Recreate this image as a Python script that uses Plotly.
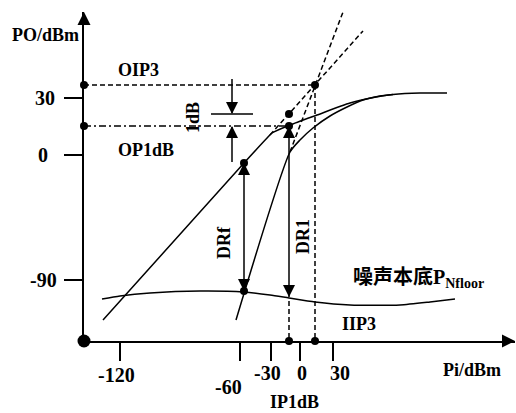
import plotly.graph_objects as go

# ---- schematic data (axis units: schematic, origin at axes corner) ----
# fundamental output curve (linear part + compression)
FUND_X = [19, 160, 184, 188, 206, 233, 266, 292, 309, 336, 363]
FUND_Y = [21, 178, 204, 208, 216, 226, 238, 244, 246.5, 248, 248]
# linear extrapolation of fundamental (dashed)
FUND_EXT_X = [186, 279]
FUND_EXT_Y = [206, 310]
# third-order product curve
IM3_X = [152, 206, 216, 229, 246, 263, 279, 296, 309]
IM3_Y = [21, 189, 201, 213, 225, 234, 241, 245, 246.5]
# extrapolation of third-order (dashed)
IM3_EXT_X = [206, 259]
IM3_EXT_Y = [189, 329]
# noise floor
NF_X = [18, 36, 66, 116, 160, 186, 205, 231, 266, 316, 346, 371]
NF_Y = [42, 45, 48, 50, 49, 46, 43, 39, 36, 36, 39, 42]

# key levels
OIP3_Y = 256
IIP3_X = 231
OP1_Y = 215
IP1_X = 205
LIN1_Y = 227          # linear extrapolation level at IP1dB (1 dB above)
DRF_X = 160
DRF_TOP = 178
DRF_BOT = 50
DR1_BOT = 44

# ticks
XTICK_POS = [36, 156, 187, 216, 249]
XTICK_TEXT = ["-120", "-60", "-30", "0", "30"]
YTICK_POS = [61, 185.7, 243.3]
YTICK_TEXT = ["-90", "0", "30"]

X_MAX = 431
Y_MAX = 329

BLACK = "black"
FONT = "Liberation Serif, Noto Sans CJK SC, serif"

fig = go.Figure()

def line(xs, ys, dash="solid", width=1.5):
    fig.add_trace(go.Scatter(x=xs, y=ys, mode="lines", line=dict(color=BLACK, width=width, dash=dash),
                             hoverinfo="skip", showlegend=False, cliponaxis=False))

def spline(xs, ys, width=1.5):
    fig.add_trace(go.Scatter(x=xs, y=ys, mode="lines", line=dict(color=BLACK, width=width, shape="spline", smoothing=0.6),
                             hoverinfo="skip", showlegend=False, cliponaxis=False))

def marks(xs, ys, symbol, size):
    fig.add_trace(go.Scatter(x=xs, y=ys, mode="markers",
                             marker=dict(symbol=symbol, size=size, color=BLACK, line=dict(width=0)),
                             hoverinfo="skip", showlegend=False, cliponaxis=False))

DASH = "5px,3px"
DASHDOT = "7px,3px,2px,3px"

# curves
spline(FUND_X, FUND_Y)
line(FUND_EXT_X, FUND_EXT_Y, dash=DASH)
spline(IM3_X, IM3_Y)
line(IM3_EXT_X, IM3_EXT_Y, dash=DASH)
spline(NF_X, NF_Y)

# OIP3 guide lines
line([0, IIP3_X], [OIP3_Y, OIP3_Y], dash=DASH)
line([IIP3_X, IIP3_X], [OIP3_Y, 0], dash=DASH)
# OP1dB guide line
line([0, IP1_X], [OP1_Y, OP1_Y], dash=DASHDOT)
# IP1dB dashed drop
line([IP1_X, IP1_X], [DR1_BOT - 4, 0], dash=DASH)

# 1dB marker
line([127, 169], [LIN1_Y, LIN1_Y])
line([148, 148], [262, LIN1_Y + 1])
line([148, 148], [179, OP1_Y - 1])
marks([148], [LIN1_Y], "arrow-down", 12)
marks([148], [OP1_Y], "arrow-up", 12)

# DRf
line([DRF_X, DRF_X], [DRF_TOP, DRF_BOT])
marks([DRF_X], [DRF_TOP], "arrow-up", 12)
marks([DRF_X], [DRF_BOT], "arrow-down", 12)
# DR1
line([IP1_X, IP1_X], [OP1_Y, DR1_BOT])
marks([IP1_X], [OP1_Y], "arrow-up", 12)
marks([IP1_X], [DR1_BOT], "arrow-down", 12)

# dots
marks([0, IIP3_X, 0, IP1_X, IP1_X, DRF_X, DRF_X, IIP3_X, IP1_X],
      [OIP3_Y, OIP3_Y, OP1_Y, OP1_Y, LIN1_Y, DRF_TOP, DRF_BOT, 0, 0], "circle", 8)
marks([0], [0], "circle", 13)

# axis arrowheads
marks([0], [Y_MAX], "arrow-up", 13)
marks([X_MAX], [0], "arrow-right", 13)

# ---- text (placed in axis units, converted to paper fractions so they may sit outside the axes) ----
def label(text, x, y, size=18, angle=0, xanchor="center"):
    fig.add_annotation(x=x / X_MAX, y=y / Y_MAX, xref="paper", yref="paper", text=text, showarrow=False,
                       xanchor=xanchor, yanchor="middle", textangle=angle,
                       font=dict(family=FONT, size=size, color=BLACK, weight="bold"))

label("PO/dBm", -39, 306)
label("OIP3", 54, 271)
label("OP1dB", 62, 191)
label("Pi/dBm", 388, -29)
label("IIP3", 275, 17)
label("IP1dB", 210, -61)
label("1dB", 109, 223, angle=-90)
label("DRf", 140, 98, angle=-90)
label("DR1", 219, 104, angle=-90)
label("噪声本底P<sub>Nfloor</sub>", 267, 63, size=20, xanchor="left")

for t, v, lx in zip(YTICK_TEXT, YTICK_POS, [-41, -41, -39]):
    label(t, lx, v, size=20)
xlab_pos = [(32, -34), (144, -46), (183, -32), (218, -32), (256, -32)]
for t, (lx, ly) in zip(XTICK_TEXT, xlab_pos):
    label(t, lx, ly, size=20)

fig.update_layout(
    width=516, height=413,
    margin=dict(l=84, r=1, t=12, b=72),
    paper_bgcolor="white", plot_bgcolor="white",
    xaxis=dict(range=[0, X_MAX], showgrid=False, zeroline=False, showline=True, linecolor=BLACK,
               linewidth=2, ticks="outside", ticklen=18, tickwidth=1.5, tickcolor=BLACK,
               tickvals=XTICK_POS, showticklabels=False, fixedrange=True),
    yaxis=dict(range=[0, Y_MAX], showgrid=False, zeroline=False, showline=True, linecolor=BLACK,
               linewidth=2, ticks="outside", ticklen=18, tickwidth=1.5, tickcolor=BLACK,
               tickvals=YTICK_POS, showticklabels=False, fixedrange=True),
)

fig.write_html("out.html")
